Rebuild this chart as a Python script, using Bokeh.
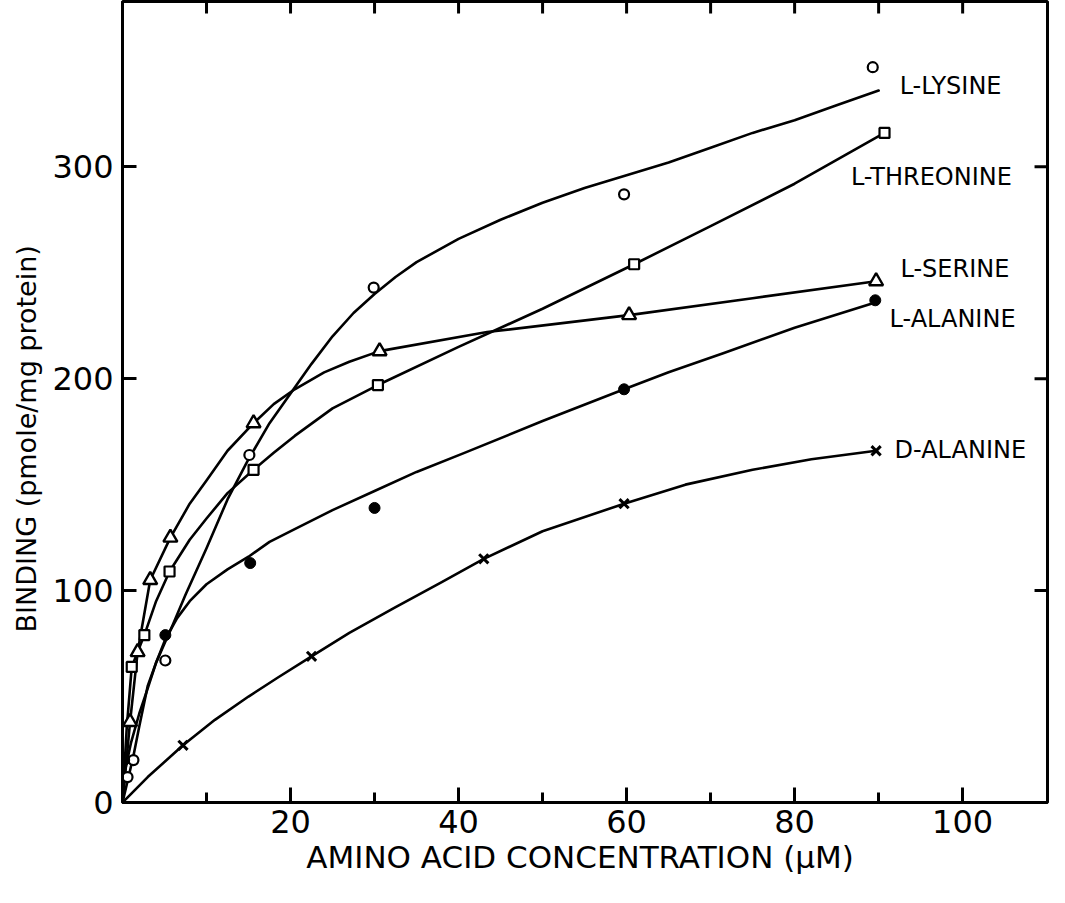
from bokeh.plotting import figure
from bokeh.models import Range1d, FixedTicker, Title
from bokeh.core.properties import value
from bokeh.embed import file_html
from bokeh.resources import INLINE

# ---- data ----
lys_x = [0.6, 1.3, 5.1, 15.1, 29.9, 59.7, 89.3]
lys_y = [12, 20, 67, 164, 243, 287, 347]
thr_x = [1.1, 2.6, 5.6, 15.6, 30.4, 60.9, 90.7]
thr_y = [64, 79, 109, 157, 197, 254, 316]
ser_x = [0.9, 1.8, 3.3, 5.7, 15.6, 30.6, 60.3, 89.7]
ser_y = [38, 71, 105, 125, 179, 213, 230, 246]
ala_x = [0.2, 5.1, 15.2, 30.0, 59.7, 89.6]
ala_y = [20, 79, 113, 139, 195, 237]
dal_x = [7.2, 22.5, 43.0, 59.7, 89.7]
dal_y = [27, 69, 115, 141, 166]

# drawn curves
lys_cx = [0, 0.6, 1.3, 2, 3, 4, 5, 6, 7.5, 10, 12.5, 15, 17.5, 20, 22.5, 25, 27.5, 30, 32.5,
          35, 40, 45, 50, 55, 60, 65, 70, 75, 80, 85, 90]
lys_cy = [0, 10, 22, 36, 55, 66, 75, 84, 98, 120, 143, 162, 179, 193, 207, 220, 231, 240, 248,
          255, 266, 275, 283, 290, 296, 302, 309, 316, 322, 329, 336]
thr_cx = [0, 0.5, 1.1, 2.6, 4, 5.6, 8, 10, 12.5, 15.6, 18, 20.5, 25, 30.4, 40, 50, 60.9, 70, 80, 90.7]
thr_cy = [0, 35, 64, 79, 95, 109, 124, 134, 146, 157, 165, 173, 186, 197, 215, 233, 254, 272, 292, 316]
ser_cx = [0, 0.9, 1.8, 3.3, 5.7, 8, 10, 12.5, 15.6, 18, 20.5, 24, 27, 30.6, 43.4, 60.3, 75, 89.7]
ser_cy = [0, 38, 71, 105, 125, 141, 152, 166, 179, 188, 195, 203, 208, 213, 222, 230, 238, 246]
ala_cx = [0, 0.3, 1, 2, 3.1, 4, 5.1, 6.5, 8, 10, 12.5, 15, 17.5, 20.5, 25, 30, 35, 40.7, 50,
          59.7, 65, 71.5, 80, 89.6]
ala_cy = [0, 15, 28, 42, 55, 66, 77, 87, 95, 103, 110, 116, 123, 129, 138, 147, 156, 165, 180,
          195, 203, 212, 224, 236]
dal_cx = [0, 3, 7.2, 11, 15, 18.5, 22.5, 27, 32.4, 38, 43, 50, 59.7, 67, 75, 82, 89.7]
dal_cy = [0, 12, 27, 39, 50, 59, 69, 80, 92, 104, 115, 128, 141, 150, 157, 162, 166]

names = ["L-LYSINE", "L-THREONINE", "L-SERINE", "L-ALANINE", "D-ALANINE"]
name_x = [92.5, 86.7, 92.6, 91.3, 91.9]
name_y = [338, 295, 252, 228, 166.5]

x_major = [20, 40, 60, 80, 100]
x_minor = [10, 30, 50, 70, 90]
y_major = [0, 100, 200, 300]
top_ticks = [10, 20, 30, 40, 50, 60, 70, 80, 90, 100]
right_ticks = [100, 200, 300]

FONT = "DejaVu Sans"
X_END, Y_END = 110.1, 378.0
W, H = 1049, 887
LEFT, RIGHT, TOP, BOTTOM = 119, 2, 1, 85

p = figure(width=W, height=H, x_range=Range1d(0, X_END), y_range=Range1d(0, Y_END),
           output_backend="svg", toolbar_location=None,
           min_border_left=LEFT, min_border_right=RIGHT, min_border_top=TOP,
           min_border_bottom=BOTTOM,
           x_axis_label="AMINO ACID CONCENTRATION  (\u03bcM)")
p.outline_line_color = "black"
p.outline_line_width = 3
p.grid.visible = False
p.background_fill_color = "white"

p.xaxis.ticker = FixedTicker(ticks=x_major, minor_ticks=x_minor)
p.yaxis.ticker = FixedTicker(ticks=y_major)

for ax in p.xaxis + p.yaxis:
    ax.axis_line_width = 3
    ax.major_tick_line_width = 3
    ax.minor_tick_line_width = 3
    ax.major_tick_out = 0
    ax.minor_tick_out = 0
    ax.major_label_text_font = FONT
    ax.major_label_text_font_size = "32px"
    ax.major_label_text_color = "black"
    ax.axis_label_text_font = FONT
    ax.axis_label_text_font_size = "31px"
    ax.axis_label_text_font_style = "normal"
    ax.axis_label_text_color = "black"
    ax.axis_line_color = "black"
    ax.major_tick_line_color = "black"
    ax.minor_tick_line_color = "black"

p.xaxis.major_tick_in = 15
p.xaxis.minor_tick_in = 10
p.xaxis.major_label_standoff = 7
p.xaxis.axis_label_standoff = 3
p.yaxis.major_tick_in = 14
p.yaxis.minor_tick_line_color = None
p.yaxis.major_label_standoff = 9

ytitle = Title(text="BINDING (pmole/mg protein)", align="left", offset=170, standoff=16,
               text_font=FONT, text_font_size="27px", text_font_style="normal",
               text_color="black")
p.add_layout(ytitle, "left")

# frame ticks on the top and right edges (inward)
frame_px_y = (H - TOP - BOTTOM)
frame_px_x = (W - LEFT - RIGHT)
top_len = 12 * Y_END / frame_px_y
right_len = 13 * X_END / frame_px_x
p.segment(x0=top_ticks, x1=top_ticks, y0=[Y_END] * len(top_ticks),
          y1=[Y_END - top_len] * len(top_ticks), line_color="black", line_width=3)
p.segment(x0=[X_END] * len(right_ticks), x1=[X_END - right_len] * len(right_ticks),
          y0=right_ticks, y1=right_ticks, line_color="black", line_width=3)

LW = 2.6
for cx, cy in [(lys_cx, lys_cy), (thr_cx, thr_cy), (ser_cx, ser_cy), (ala_cx, ala_cy), (dal_cx, dal_cy)]:
    p.line(cx, cy, line_color="black", line_width=LW, line_join="round", line_cap="round")

p.scatter(lys_x, lys_y, marker="circle", size=10, fill_color="white", line_color="black", line_width=2.2)
p.scatter(thr_x, thr_y, marker="square", size=10, fill_color="white", line_color="black", line_width=2.2)
p.scatter(ser_x, ser_y, marker="triangle", size=14, fill_color="white", line_color="black", line_width=2.4)
p.scatter(ala_x, ala_y, marker="circle", size=11, fill_color="black", line_color="black")
p.scatter(dal_x, dal_y, marker="x", size=13, line_color="black", line_width=3)

p.text(name_x, name_y, text=names, text_font=value(FONT), text_font_size="24px",
       text_baseline="middle", text_align="left", text_color="black")

open("out.html", "w").write(file_html(p, INLINE))
